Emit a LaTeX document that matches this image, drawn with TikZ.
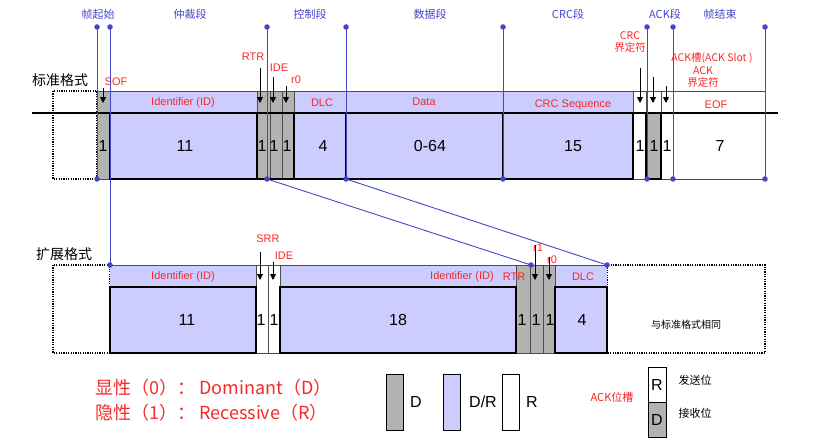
\documentclass[tikz,border=0pt]{standalone}
\usepackage{fontspec}
\setmainfont{Liberation Sans}
\newfontfamily\cjk{Noto Sans CJK SC}
\usetikzlibrary{arrows.meta}
\definecolor{pu}{HTML}{CCCCFF}
\definecolor{gr}{HTML}{B3B3B3}
\definecolor{bl}{HTML}{4545C8}
\definecolor{rd}{HTML}{F82828}
\tikzset{
 band/.style={draw=black!70,line width=0.6pt},
 thick box/.style={draw=black,line width=2.6pt},
 rl/.style={text=rd,font=\fontsize{11}{11}\selectfont,inner sep=0pt},
 rlc/.style={text=rd,font=\cjk\fontsize{10.5}{12}\selectfont,inner sep=0pt,align=center},
 num/.style={font=\fontsize{16}{16}\selectfont,inner sep=0pt},
 hd/.style={text=bl,font=\cjk\fontsize{11}{11}\selectfont,inner sep=0pt},
 bline/.style={draw=bl,line width=0.9pt},
 dot/.style={circle,fill=bl,inner sep=0pt,minimum size=5.5pt},
 arr/.style={-{Triangle[length=6pt,width=6pt]},line width=0.9pt},
 dotted box/.style={draw=black,line width=1.8pt,dash pattern=on 1.2pt off 1.2pt},
}
\begin{document}
\begin{tikzpicture}[x=1pt,y=-1pt]
\useasboundingbox (0,0) rectangle (816,444);
% ---------- standard ----------
\draw[dotted box] (53,91) rectangle (97,179);
\fill[pu] (110,91) rectangle (257,179);
\fill[pu] (294,91) rectangle (633,179);
\fill[gr] (97,91) rectangle (110,179);
\fill[gr] (257,91) rectangle (294,179);
\fill[gr] (646,113) rectangle (661,179);
\draw[band] (97,91) -- (765,91);
\draw[band] (765,91) -- (765,179) -- (633,179);
\draw[band] (633,91) -- (633,179);
\draw[band] (646,91) -- (646,113);\draw[band] (661,91) -- (661,113);\draw[band] (673,91) -- (673,179);
\draw[band] (97,91) -- (97,179) -- (110,179);
\draw[band] (270,91) -- (270,179);\draw[band] (282,91) -- (282,179);
\draw[band] (257,91) -- (257,179); \draw[band] (294,91) -- (294,179);
\draw[line width=2.6pt] (32,113) -- (778,113);
\draw[thick box] (110,113) rectangle (257,179);
\draw[thick box] (294,113) rectangle (346,179);
\draw[thick box] (346,113) rectangle (503,179);
\draw[thick box] (503,113) rectangle (633,179);
\draw[thick box] (646,113) rectangle (661,179);
\draw[line width=1.4pt] (257,179) -- (294,179);
% labels in band
\node[rl] (sid) at (183,103) {Identifier (ID)};
\node[rl] (sdlc) at (322,103) {DLC};
\node[rl] (sdata) at (424,102) {Data};
\node[rl] (scrc) at (573,105) {CRC Sequence};
\node[rl] (seof) at (716,105) {EOF};
% numbers
\foreach \x/\t [count=\i] in {103/1,185/11,262/1,274/1,287/1,323/4,430/0-64,573/15,640/1,654/1,667/1,720/7}
 \node[num] (sn\i) at (\x,146) {\t};
% red labels + arrows
\node[rl] (sof) at (116,82) {SOF};
\node[rl] (rtr) at (253,57) {RTR};
\node[rl] (ide) at (279,68) {IDE};
\node[rl] (r0) at (296,80) {r0};
\node[rlc] (crcd) at (630,42) {CRC\\界定符};
\node[rlc] (ackslot) at (712,58) {ACK槽(ACK Slot )};
\node[rlc] (ackd) at (703,77) {ACK\\界定符};
\coordinate (a1) at (103,88);\coordinate (b1) at (103,103);
\coordinate (a2) at (260,68);\coordinate (b2) at (260,103);
\coordinate (a3) at (273,77);\coordinate (b3) at (273,103);
\coordinate (a4) at (286,86);\coordinate (b4) at (286,103);
\coordinate (a5) at (640,68);\coordinate (b5) at (640,103);
\coordinate (a6) at (653,77);\coordinate (b6) at (653,103);
\coordinate (a7) at (666,86);\coordinate (b7) at (666,103);
\foreach \i in {1,...,7} \draw[arr] (a\i) -- (b\i);
\node[font=\cjk\fontsize{14}{14}\selectfont,inner sep=0pt] (std) at (60,80) {标准格式};
% ---------- extended ----------
\draw[dotted box] (53,265) rectangle (110,353);
\draw[dotted box] (607,265) rectangle (765,353);
\fill[pu] (110,265) rectangle (256,353);
\fill[pu] (280,265) rectangle (516,353);
\fill[pu] (555,265) rectangle (607,353);
\fill[gr] (516,265) rectangle (555,353);
\draw[band] (110,265) -- (607,265);
\draw[band] (256,265) -- (256,353) (268,265) -- (268,353) (280,265) -- (280,353);
\draw[band] (516,265) -- (516,353) (530,265) -- (530,353) (543,265) -- (543,353) (555,265) -- (555,353);
\draw[band] (256,353) -- (280,353) (516,353) -- (555,353);
\draw[thick box] (110,287) rectangle (256,353);
\draw[thick box] (280,287) rectangle (516,353);
\draw[thick box] (555,287) rectangle (607,353);
\node[rl] (eid) at (183,277) {Identifier (ID)};
\node[rl] (eid2) at (462,277) {Identifier (ID)};
\node[rl] (ertr) at (514,277) {RTR};
\node[rl] (edlc) at (583,277) {DLC};
\foreach \x/\t [count=\i] in {187/11,261/1,274/1,398/18,522/1,536/1,550/1,582/4}
 \node[num] (en\i) at (\x,320) {\t};
\node[rl] (srr) at (268,239) {SRR};
\node[rl] (eide) at (284,256) {IDE};
\node[rl] (er1) at (538,248) {r1};
\node[rl] (er0) at (552,260) {r0};
\coordinate (c1) at (260,252);\coordinate (d1) at (260,280);
\coordinate (c2) at (273,262);\coordinate (d2) at (273,280);
\coordinate (c3) at (535,245);\coordinate (d3) at (535,280);
\coordinate (c4) at (549,257);\coordinate (d4) at (549,280);
\foreach \i in {1,...,4} \draw[arr] (c\i) -- (d\i);
\node[font=\cjk\fontsize{14}{14}\selectfont,inner sep=0pt] (ext) at (64,254) {扩展格式};
\node[font=\cjk\fontsize{10}{10}\selectfont,inner sep=0pt] (same) at (686,325) {与标准格式相同};
% ---------- blue segment markers ----------
\foreach \x/\t in {98/帧起始,190/仲裁段,310/控制段,430/数据段,568/CRC段,665/ACK段,720/帧结束}
 \node[hd] at (\x,14) {\t};
\foreach \n/\x in {p1/97,p2/110,p3/267,p4/346,p5/503,p6/647,p7/673,p8/765}
 \node[dot] (\n t) at (\x,27) {};
\foreach \n/\x in {p1/97,p3/267,p4/346,p5/503,p6/647,p7/673,p8/765}
 \node[dot] (\n b) at (\x,179) {};
\node[dot] (q2) at (110,265) {};
\node[dot] (q3) at (531,265) {};
\node[dot] (q4) at (607,265) {};
\foreach \n in {p1,p3,p4,p5,p6,p7,p8} \draw[bline] (\n t.center) -- (\n b.center);
\draw[bline] (p2t.center) -- (q2.center);
\draw[bline] (p3b.center) -- (q3.center);
\draw[bline] (p4b.center) -- (q4.center);
% ---------- legend ----------
\node[anchor=west,text=rd,font=\cjk\fontsize{18}{18}\selectfont,inner sep=0pt] (dom) at (95,388) {显性（0）： Dominant（D）};
\node[anchor=west,text=rd,font=\cjk\fontsize{18}{18}\selectfont,inner sep=0pt] (rec) at (95,413) {隐性（1）： Recessive（R）};
\draw[fill=gr,line width=0.8pt] (386,374) rectangle (403,430);
\node[num] (lD) at (416,402) {D};
\draw[fill=pu,line width=0.8pt] (443,374) rectangle (460,430);
\node[num] (lDR) at (483,402) {D/R};
\draw[fill=white,line width=0.8pt] (502,374) rectangle (519,430);
\node[num] (lR) at (532,402) {R};
\node[rlc,font=\cjk\fontsize{11}{11}\selectfont] (ackpos) at (612,397) {ACK位槽};
\draw[fill=white,line width=0.8pt] (648,367) rectangle (666,402);
\draw[fill=gr,line width=0.8pt] (648,402) rectangle (666,437);
\node[num] (bR) at (657,385) {R};
\node[num] (bD) at (657,420) {D};
\node[font=\cjk\fontsize{11}{11}\selectfont,inner sep=0pt] (send) at (695,380) {发送位};
\node[font=\cjk\fontsize{11}{11}\selectfont,inner sep=0pt] (recv) at (695,413) {接收位};
\end{tikzpicture}
\end{document}
